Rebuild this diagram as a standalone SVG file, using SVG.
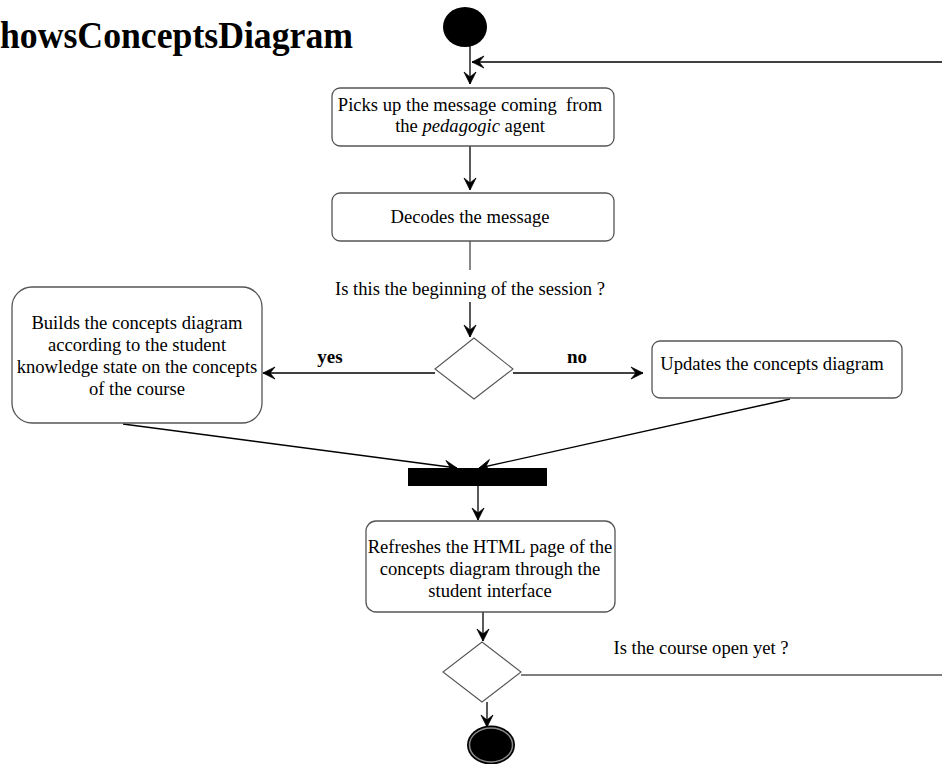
<svg xmlns="http://www.w3.org/2000/svg" width="942" height="764" viewBox="0 0 942 764">
  <style>
    .bg { fill: #ffffff; }
    .box { fill: #ffffff; stroke: #555555; stroke-width: 1.3; }
    .dia { fill: #ffffff; stroke: #555555; stroke-width: 1.1; }
    .t { font-family: "Liberation Serif", "Times New Roman", serif; font-size: 18.6px; fill: #000000; text-anchor: middle; }
    .lbl { font-family: "Liberation Serif", "Times New Roman", serif; font-size: 19px; font-weight: bold; fill: #000000; text-anchor: middle; }
    .title { font-family: "Liberation Serif", "Times New Roman", serif; font-size: 37px; font-weight: bold; fill: #000000; }
    .edge { fill: none; stroke: #000000; stroke-width: 1.3; }
    .plain { fill: none; stroke: #555555; stroke-width: 1.4; }
  </style>
  <defs>
    <marker id="arrow" viewBox="0 0 14 14" refX="13" refY="7" markerWidth="14" markerHeight="14" markerUnits="userSpaceOnUse" orient="auto">
      <path d="M1,1 L13,7 L1,13 L6,7 Z" fill="#000000" stroke="#000000" stroke-width="0.8" stroke-linejoin="miter"/>
    </marker>
  </defs>
  <rect class="bg" x="0" y="0" width="942" height="764"/>

  <text class="title" x="0" y="48" textLength="353" lengthAdjust="spacingAndGlyphs">howsConceptsDiagram</text>

  <g id="connectors">
    <path class="edge" d="M470,46 L470,84" marker-end="url(#arrow)"/>
    <path class="edge" d="M942,62 L472,62" marker-end="url(#arrow)"/>
    <path class="edge" d="M470,146 L470,190" marker-end="url(#arrow)"/>
    <path class="plain" d="M470,241 L470,270"/>
    <path class="edge" d="M470,302 L470,337" marker-end="url(#arrow)"/>
    <path class="edge" d="M435,373 L263,373" marker-end="url(#arrow)"/>
    <path class="edge" d="M513,373 L643,373" marker-end="url(#arrow)"/>
    <path class="edge" d="M123,424 L457,468" marker-end="url(#arrow)"/>
    <path class="edge" d="M790,399 L479,468" marker-end="url(#arrow)"/>
    <path class="edge" d="M478,486 L478,520" marker-end="url(#arrow)"/>
    <path class="edge" d="M483,612 L483,641" marker-end="url(#arrow)"/>
    <path class="plain" d="M521,675 L942,675"/>
    <path class="edge" d="M487,702 L487,727" marker-end="url(#arrow)"/>
  </g>

  <g id="start">
    <ellipse cx="465" cy="27" rx="22" ry="20" fill="#000000"/>
  </g>

  <g id="pickup">
    <rect class="box" x="332" y="88" width="282" height="58" rx="8"/>
    <text class="t" x="470" y="111" xml:space="preserve">Picks up the message coming  from</text>
    <text class="t" x="470" y="132">the <tspan font-style="italic">pedagogic</tspan> agent</text>
  </g>

  <g id="decode">
    <rect class="box" x="332" y="193" width="282" height="48" rx="8"/>
    <text class="t" x="470" y="223">Decodes the message</text>
  </g>

  <text class="t" x="470" y="295">Is this the beginning of the session ?</text>

  <g id="decision1">
    <polygon class="dia" points="474,338 513,369 474,399 435,369"/>
  </g>
  <text class="lbl" x="330" y="363">yes</text>
  <text class="lbl" x="577" y="363">no</text>

  <g id="build">
    <rect class="box" x="12" y="287" width="250" height="136" rx="20"/>
    <text class="t" x="137" y="329">Builds the concepts diagram</text>
    <text class="t" x="137" y="351">according to the student</text>
    <text class="t" x="137" y="373">knowledge state on the concepts</text>
    <text class="t" x="137" y="395">of the course</text>
  </g>

  <g id="update">
    <rect class="box" x="652" y="341" width="250" height="57" rx="8"/>
    <text class="t" x="772" y="370">Updates the concepts diagram</text>
  </g>

  <g id="join">
    <rect x="408" y="468" width="139" height="18" fill="#000000"/>
  </g>

  <g id="refresh">
    <rect class="box" x="366" y="521" width="249" height="91" rx="10"/>
    <text class="t" x="490" y="553">Refreshes the HTML page of the</text>
    <text class="t" x="490" y="575">concepts diagram through the</text>
    <text class="t" x="490" y="597">student interface</text>
  </g>

  <g id="decision2">
    <polygon class="dia" points="482,642 521,672 482,702 443,672"/>
  </g>
  <text class="t" x="701" y="654">Is the course open yet ?</text>

  <g id="end">
    <ellipse cx="491" cy="745" rx="24" ry="19.5" fill="#000000"/>
    <ellipse cx="491" cy="745" rx="21.5" ry="17" fill="#000000" stroke="#8a8a8a" stroke-width="1.5"/>
  </g>
</svg>
